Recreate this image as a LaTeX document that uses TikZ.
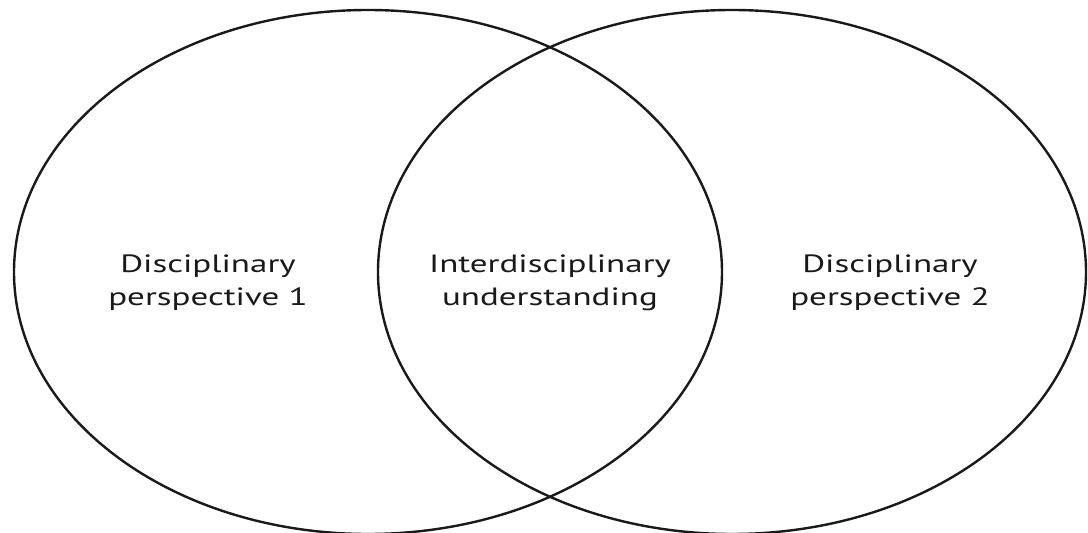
\documentclass[tikz,border=0pt]{standalone}
\usepackage{fontspec}
\setmainfont{PT Sans}
\usepackage{tikz}

\begin{document}
\begin{tikzpicture}[x=1pt,y=1pt,
        label text/.style={align=center,xscale=1.4,text=black!90,
          font=\fontsize{25}{33}\selectfont}]
        % 半径和圆心间距
        \newcommand{\hrad}{354}
        \newcommand{\vrad}{262}
        \newcommand{\shift}{182}

        \useasboundingbox (0,0) rectangle (1088,533);

        % 两个椭圆
        \draw[line width=2.4pt,black!90] (550-\shift,261) ellipse ({\hrad} and {\vrad});
        \draw[line width=2.4pt,black!90] (550+\shift,261) ellipse ({\hrad} and {\vrad});

        % 文字
        \node[label text] (left) at (208,250) {Disciplinary\\perspective 1};
        \node[label text] (mid) at (550,250) {Interdisciplinary\\understanding};
        \node[label text] (right) at (890,250) {Disciplinary\\perspective 2};
\end{tikzpicture}
\end{document}
